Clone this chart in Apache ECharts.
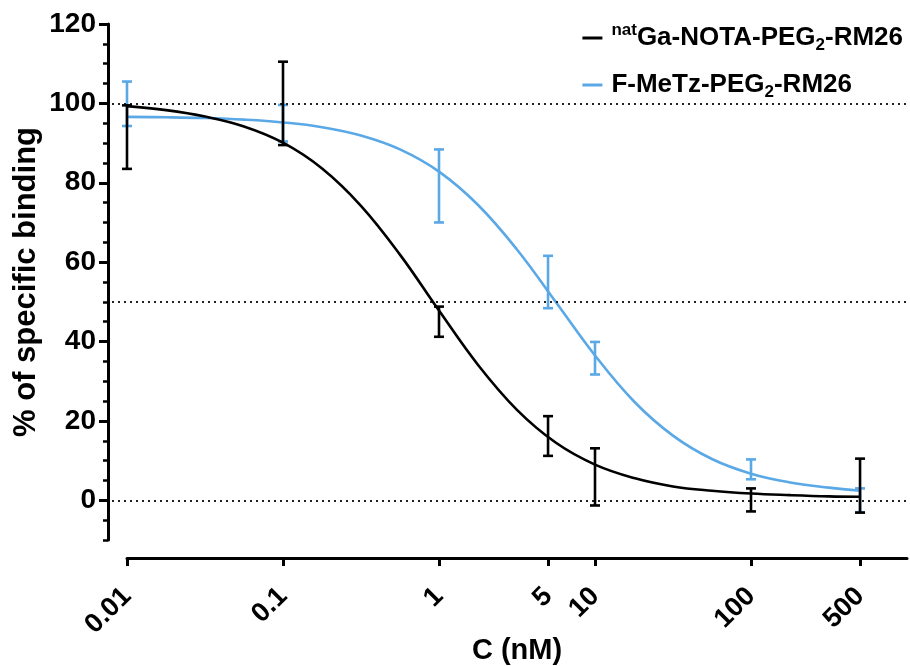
<!DOCTYPE html>
<html>
<head>
<meta charset="utf-8">
<script src="https://cdn.jsdelivr.net/npm/echarts@6/dist/echarts.min.js"></script>
<style>html,body{margin:0;padding:0;background:#fff}#c{width:910px;height:666px}</style>
</head>
<body>
<div id="c"></div>
<script>
// ---- data ----
const concentrations = [0.01, 0.1, 1, 5, 10, 100, 500];      // nM
const gaMean   = [91.5, 100.0, 45.0, 16.2, 5.9, 0.1, 3.7];
const gaSD     = [8.0, 10.5, 3.8, 5.0, 7.2, 2.9, 6.8];
const metzMean = [99.9, 95.0, 79.2, 55.0, 35.8, 7.8, 0.0];
const metzSD   = [5.6, 4.6, 9.2, 6.6, 4.1, 2.5, 3.0];

const curveX   = [0.01, 0.0178, 0.0316, 0.0562, 0.1, 0.178, 0.316, 0.562, 1, 1.78, 3.16, 5.62, 10, 17.8, 31.6, 56.2, 100, 178, 316, 500];
const gaFit    = [99.3, 98.3, 96.7, 94.2, 90.1, 83.6, 74.2, 61.9, 47.8, 34.1, 22.8, 14.5, 9.0, 5.6, 3.5, 2.4, 1.7, 1.3, 1.0, 0.9];
const metzFit  = [96.6, 96.5, 96.3, 95.9, 95.2, 94.0, 91.9, 88.4, 82.8, 74.4, 63.2, 49.9, 36.5, 24.9, 16.3, 10.4, 6.7, 4.5, 3.2, 2.4];

const xTickValues = [0.01, 0.1, 1, 5, 10, 100, 500];
const xTickLabels = ['0.01', '0.1', '1', '5', '10', '100', '500'];
const yTickValues = [0, 20, 40, 60, 80, 100, 120];
const refLines = [100, 50, 0];

const nameGa = 'natGa-NOTA-PEG2-RM26';
const nameMetz = 'F-MeTz-PEG2-RM26';

const BLUE = '#5aa8e6';
const FONT = "'Liberation Sans', Arial, sans-serif";

function errData(means, sds) {
  return concentrations.map((c, i) => [c, means[i] - sds[i], means[i] + sds[i]]);
}
function fitData(ys) { return curveX.map((c, i) => [c, ys[i]]); }

function errRender(color) {
  return function (params, api) {
    const x = api.value(0);
    const lo = api.coord([x, api.value(1)]);
    const hi = api.coord([x, api.value(2)]);
    const w = 5;
    const st = { stroke: color, lineWidth: 2.6 };
    return {
      type: 'group',
      children: [
        { type: 'line', shape: { x1: lo[0], y1: lo[1], x2: hi[0], y2: hi[1] }, style: st },
        { type: 'line', shape: { x1: lo[0] - w, y1: lo[1], x2: lo[0] + w, y2: lo[1] }, style: st },
        { type: 'line', shape: { x1: hi[0] - w, y1: hi[1], x2: hi[0] + w, y2: hi[1] }, style: st }
      ]
    };
  };
}

const chart = echarts.init(document.getElementById('c'), null, { renderer: 'canvas' });

const legendRich = {
  b: { fontFamily: FONT, fontWeight: 'bold', fontSize: 26, color: '#000', lineHeight: 32 },
  sup: { fontFamily: FONT, fontWeight: 'bold', fontSize: 17, color: '#000', lineHeight: 17, verticalAlign: 'top' },
  sub: { fontFamily: FONT, fontWeight: 'bold', fontSize: 17, color: '#000', lineHeight: 17, verticalAlign: 'bottom' }
};

chart.setOption({
  animation: false,
  textStyle: { fontFamily: FONT },
  grid: [
    { left: 127, right: 3, top: 24, bottom: 126, outerBoundsMode: 'none', containLabel: false },
    { left: 112, right: 0, top: 24, bottom: 126, outerBoundsMode: 'none', containLabel: false }
  ],
  legend: {
    orient: 'vertical',
    right: 2,
    top: 17,
    itemWidth: 20,
    itemHeight: 3,
    itemGap: 18,
    data: [
      { name: nameGa, icon: 'rect', itemStyle: { color: '#000' } },
      { name: nameMetz, icon: 'rect', itemStyle: { color: BLUE } }
    ],
    formatter: function (n) {
      if (n === nameGa) return '{sup|nat}{b|Ga-NOTA-PEG}{sub|2}{b|-RM26}';
      return '{b|F-MeTz-PEG}{sub|2}{b|-RM26}';
    },
    textStyle: { rich: legendRich, padding: [0, 0, 0, 4] }
  },
  xAxis: [
    {
      gridIndex: 0,
      type: 'log',
      logBase: 10,
      min: 0.01,
      max: 1000,
      offset: 18,
      axisLine: { onZero: false, lineStyle: { color: '#000', width: 3 } },
      axisTick: { customValues: xTickValues, length: 8, lineStyle: { color: '#000', width: 3 } },
      axisLabel: {
        customValues: xTickValues,
        rotate: 45,
        margin: 34,
        color: '#000',
        fontWeight: 'bold',
        fontSize: 27,
        fontFamily: FONT,
        formatter: function (v) {
          for (let i = 0; i < xTickValues.length; i++) {
            if (Math.abs(v - xTickValues[i]) / xTickValues[i] < 1e-6) return xTickLabels[i];
          }
          return '';
        }
      },
      splitLine: { show: false },
      minorTick: { show: false },
      name: 'C (nM)',
      nameLocation: 'middle',
      nameGap: 78,
      nameMoveOverlap: false,
      nameTextStyle: { color: '#000', fontWeight: 'bold', fontSize: 29, fontFamily: FONT }
    },
    { gridIndex: 1, type: 'value', min: 0, max: 1, show: false }
  ],
  yAxis: [
    {
      gridIndex: 0,
      type: 'value',
      position: 'left',
      min: -10,
      max: 120,
      interval: 5,
      offset: 19,
      axisLine: { show: true, onZero: false, lineStyle: { color: '#000', width: 3 } },
      axisTick: { show: true, length: 5, lineStyle: { color: '#000', width: 2.5 } },
      axisLabel: { show: false },
      splitLine: { show: false }
    },
    {
      gridIndex: 0,
      type: 'value',
      position: 'left',
      min: -10,
      max: 120,
      offset: 19,
      axisLine: { show: false, onZero: false },
      axisTick: { show: true, customValues: yTickValues, length: 9, lineStyle: { color: '#000', width: 3 } },
      axisLabel: {
        customValues: yTickValues,
        margin: 12,
        color: '#000',
        fontWeight: 'bold',
        fontSize: 28,
        fontFamily: FONT
      },
      splitLine: { show: false },
      name: '% of specific binding',
      nameLocation: 'middle',
      nameGap: 66,
      nameMoveOverlap: false,
      nameTextStyle: { color: '#000', fontWeight: 'bold', fontSize: 31, fontFamily: FONT }
    },
    { gridIndex: 1, type: 'value', min: -10, max: 120, show: false }
  ],
  series: [
    {
      name: 'ref',
      type: 'line',
      xAxisIndex: 1,
      yAxisIndex: 2,
      data: [],
      silent: true,
      z: 1,
      markLine: {
        symbol: 'none',
        silent: true,
        label: { show: false },
        lineStyle: { type: [2, 4], color: '#222', width: 2 },
        data: refLines.map(v => ({ yAxis: v }))
      }
    },
    {
      name: nameMetz,
      type: 'line',
      xAxisIndex: 0,
      yAxisIndex: 0,
      data: fitData(metzFit),
      smooth: 0.4,
      showSymbol: false,
      symbol: 'none',
      lineStyle: { color: BLUE, width: 2.6 },
      itemStyle: { color: BLUE },
      z: 3
    },
    {
      name: nameMetz,
      type: 'custom',
      xAxisIndex: 0,
      yAxisIndex: 0,
      data: errData(metzMean, metzSD),
      encode: { x: 0, y: [1, 2] },
      renderItem: errRender(BLUE),
      itemStyle: { color: BLUE },
      z: 4
    },
    {
      name: nameGa,
      type: 'line',
      xAxisIndex: 0,
      yAxisIndex: 0,
      data: fitData(gaFit),
      smooth: 0.4,
      showSymbol: false,
      symbol: 'none',
      lineStyle: { color: '#000', width: 2.6 },
      itemStyle: { color: '#000' },
      z: 5
    },
    {
      name: nameGa,
      type: 'custom',
      xAxisIndex: 0,
      yAxisIndex: 0,
      data: errData(gaMean, gaSD),
      encode: { x: 0, y: [1, 2] },
      renderItem: errRender('#000'),
      itemStyle: { color: '#000' },
      z: 6
    }
  ]
});
</script>
</body>
</html>
